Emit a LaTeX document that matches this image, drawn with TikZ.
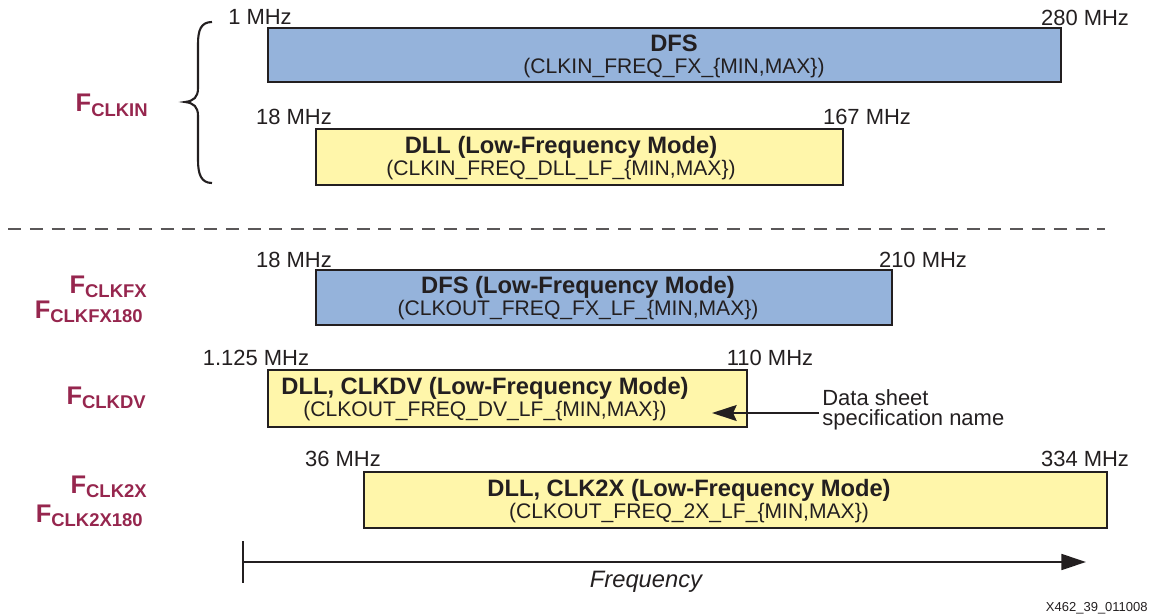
\documentclass[tikz,border=0pt]{standalone}
\usepackage{fontspec}
\setmainfont{Liberation Sans}
\usepackage{xcolor}
\usetikzlibrary{arrows.meta, positioning}

\definecolor{dfsblue}{RGB}{149,179,219}
\definecolor{dllyellow}{RGB}{255,246,170}
\definecolor{sigred}{RGB}{150,38,78}
\definecolor{inkdark}{RGB}{35,31,32}

\newcommand{\bandtitle}[1]{{\bfseries\fontsize{13.5}{12.5}\selectfont #1}}
\newcommand{\fsig}[1]{{\fontsize{14.5}{14.5}\selectfont F}\raisebox{-2.8pt}{\fontsize{10.5}{10.5}\selectfont #1}}

\begin{document}
\begin{tikzpicture}[
  x=0.02cm, y=-0.02cm,
  band/.style={rectangle, draw=inkdark, line width=1.6pt, inner sep=0pt},
  bandtext/.style={align=center, text=inkdark, inner sep=0pt, font=\fontsize{12}{12.5}\selectfont},
  mhz/.style={anchor=base, text=inkdark, inner sep=0pt, font=\fontsize{12.5}{12.5}\selectfont},
  sig/.style={anchor=base east, text=sigred, inner sep=0pt, font=\bfseries},
  arr/.style={-{Stealth[length=14pt, width=9pt, inset=2pt]}, line width=1.3pt, draw=inkdark},
  axis/.style={-{Triangle[length=14pt, width=9pt]}, line width=1.3pt, draw=inkdark}
]
  \useasboundingbox (0,0) rectangle (1151,615);

  % input clock ranges
  \node[band, fill=dfsblue, minimum width=15.86cm, minimum height=1.08cm] (dfs) at (664.5,55) {};
  \node[bandtext] (dfstext) at (674,56) {\bandtitle{DFS}\\(CLKIN\_FREQ\_FX\_\{MIN,MAX\})};
  \node[band, fill=dllyellow, minimum width=10.54cm, minimum height=1.12cm] (dlllf) at (579.5,157) {};
  \node[bandtext] (dlllftext) at (561,158) {\bandtitle{DLL (Low-Frequency Mode)}\\(CLKIN\_FREQ\_DLL\_LF\_\{MIN,MAX\})};

  \node[mhz] (dfsmin) at (260,25) {1 MHz};
  \node[mhz] (dfsmax) at (1085,26) {280 MHz};
  \node[mhz] (dlllfmin) at (294,124) {18 MHz};
  \node[mhz] (dlllfmax) at (867,124) {167 MHz};

  \draw[inkdark, line width=1.2pt] (212,22) .. controls (201,22) and (198,30) .. (198,44)
    -- (198,88) .. controls (198,97) and (194,101) .. (185,102)
    .. controls (194,103) and (198,107) .. (198,116)
    -- (198,160) .. controls (198,174) and (201,183) .. (212,183);
  \node[sig] (fclkin) at (148,112) {\fsig{CLKIN}};

  \draw[inkdark!75, line width=0.9pt, dash pattern=on 7.4pt off 5pt] (8,229) -- (1105,229);

  % output clock ranges
  \node[band, fill=dfsblue, minimum width=11.52cm, minimum height=1.1cm] (dfslf) at (604,297.5) {};
  \node[bandtext] (dfslftext) at (578,298.5) {\bandtitle{DFS (Low-Frequency Mode)}\\(CLKOUT\_FREQ\_FX\_LF\_\{MIN,MAX\})};
  \node[band, fill=dllyellow, minimum width=9.58cm, minimum height=1.14cm] (clkdv) at (507.5,398.5) {};
  \node[bandtext] (clkdvtext) at (485,399.5) {\bandtitle{DLL, CLKDV (Low-Frequency Mode)}\\(CLKOUT\_FREQ\_DV\_LF\_\{MIN,MAX\})};
  \node[band, fill=dllyellow, minimum width=14.86cm, minimum height=1.12cm] (clk2x) at (735.5,500) {};
  \node[bandtext] (clk2xtext) at (689,501) {\bandtitle{DLL, CLK2X (Low-Frequency Mode)}\\(CLKOUT\_FREQ\_2X\_LF\_\{MIN,MAX\})};

  \node[mhz] (dfslfmin) at (294,267) {18 MHz};
  \node[mhz] (dfslfmax) at (923,267) {210 MHz};
  \node[mhz] (clkdvmin) at (256,365) {1.125 MHz};
  \node[mhz] (clkdvmax) at (770,365) {110 MHz};
  \node[mhz] (clk2xmin) at (343,466) {36 MHz};
  \node[mhz] (clk2xmax) at (1085,466) {334 MHz};

  \node[sig] (fclkfx) at (147,293) {\fsig{CLKFX}};
  \node[sig] (fclkfxb) at (143,318) {\fsig{CLKFX180}};
  \node[sig] (fclkdv) at (146,404) {\fsig{CLKDV}};
  \node[sig] (fclk2x) at (147,493) {\fsig{CLK2X}};
  \node[sig] (fclk2xb) at (143,522) {\fsig{CLK2X180}};

  \node[anchor=west, align=left, inner sep=0pt, text=inkdark,
        font=\fontsize{12.5}{11.3}\selectfont] (dsname) at (822,410)
    {Data sheet\\specification name};
  \coordinate (dvtip) at (712,413);
  \draw[arr] (dvtip -| dsname.west) ++(-3,0) -- (dvtip);

  % frequency axis
  \coordinate (f0) at (243,562);
  \coordinate (f1) at (1086,562);
  \draw[axis] (f0) -- (f1);
  \draw[inkdark, line width=1.2pt] (f0) ++(0,-21) -- ++(0,42);
  \node[anchor=base, inner sep=0pt, text=inkdark, font=\itshape\fontsize{13.5}{13.5}\selectfont]
    (freq) at (646,587) {Frequency};
  \node[anchor=base east, inner sep=0pt, text=inkdark, font=\fontsize{7.4}{7.4}\selectfont]
    (figid) at (1148,611) {X462\_39\_011008};
\end{tikzpicture}
\end{document}
